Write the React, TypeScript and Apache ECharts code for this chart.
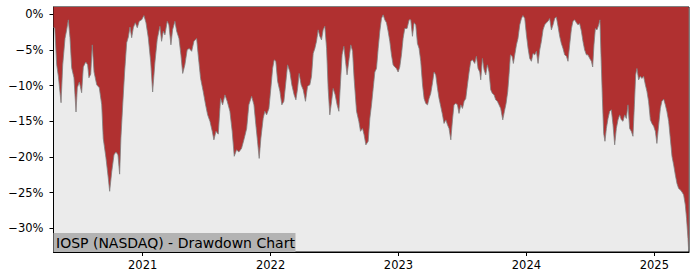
import React, { useEffect, useRef } from "react";
import * as echarts from "echarts";

// decimal-year dates of each observation
const years = [
  2020.303, 2020.313, 2020.328, 2020.341, 2020.362, 2020.375, 2020.393, 2020.406, 2020.419, 2020.432,
  2020.445, 2020.463, 2020.479, 2020.489, 2020.505, 2020.523, 2020.536, 2020.555, 2020.570, 2020.580,
  2020.594, 2020.606, 2020.620, 2020.641, 2020.661, 2020.680, 2020.692, 2020.713, 2020.731, 2020.742,
  2020.758, 2020.776, 2020.791, 2020.807, 2020.820, 2020.830, 2020.844, 2020.859, 2020.875, 2020.888,
  2020.901, 2020.914, 2020.927, 2020.942, 2020.958, 2020.973, 2020.992, 2021.010, 2021.026, 2021.044,
  2021.063, 2021.078, 2021.096, 2021.114, 2021.135, 2021.148, 2021.161, 2021.174, 2021.192, 2021.205,
  2021.221, 2021.234, 2021.252, 2021.266, 2021.284, 2021.299, 2021.313, 2021.330, 2021.348, 2021.364,
  2021.383, 2021.401, 2021.422, 2021.434, 2021.453, 2021.473, 2021.492, 2021.508, 2021.526, 2021.544,
  2021.557, 2021.573, 2021.591, 2021.609, 2021.625, 2021.643, 2021.661, 2021.682, 2021.700, 2021.716,
  2021.734, 2021.752, 2021.773, 2021.794, 2021.813, 2021.830, 2021.852, 2021.870, 2021.885, 2021.898,
  2021.911, 2021.924, 2021.942, 2021.955, 2021.969, 2021.987, 2022.002, 2022.016, 2022.028, 2022.041,
  2022.055, 2022.073, 2022.088, 2022.104, 2022.120, 2022.133, 2022.151, 2022.166, 2022.184, 2022.198,
  2022.211, 2022.223, 2022.239, 2022.255, 2022.273, 2022.289, 2022.307, 2022.320, 2022.333, 2022.346,
  2022.359, 2022.372, 2022.385, 2022.398, 2022.411, 2022.424, 2022.438, 2022.450, 2022.463, 2022.477,
  2022.489, 2022.505, 2022.520, 2022.534, 2022.547, 2022.559, 2022.573, 2022.586, 2022.598, 2022.614,
  2022.627, 2022.641, 2022.653, 2022.672, 2022.690, 2022.703, 2022.719, 2022.731, 2022.745, 2022.763,
  2022.776, 2022.789, 2022.802, 2022.815, 2022.828, 2022.841, 2022.854, 2022.867, 2022.880, 2022.893,
  2022.906, 2022.919, 2022.932, 2022.945, 2022.958, 2022.971, 2022.984, 2022.997, 2023.010, 2023.023,
  2023.036, 2023.049, 2023.067, 2023.083, 2023.096, 2023.109, 2023.122, 2023.135, 2023.148, 2023.161,
  2023.174, 2023.188, 2023.200, 2023.213, 2023.227, 2023.239, 2023.252, 2023.266, 2023.278, 2023.291,
  2023.305, 2023.317, 2023.330, 2023.344, 2023.356, 2023.370, 2023.383, 2023.395, 2023.409, 2023.422,
  2023.434, 2023.448, 2023.461, 2023.473, 2023.487, 2023.500, 2023.513, 2023.526, 2023.539, 2023.552,
  2023.565, 2023.578, 2023.596, 2023.609, 2023.622, 2023.635, 2023.643, 2023.656, 2023.669, 2023.682,
  2023.695, 2023.708, 2023.721, 2023.734, 2023.747, 2023.760, 2023.773, 2023.786, 2023.799, 2023.815,
  2023.828, 2023.841, 2023.854, 2023.864, 2023.875, 2023.888, 2023.898, 2023.909, 2023.922, 2023.934,
  2023.948, 2023.961, 2023.973, 2023.987, 2024.000, 2024.013, 2024.026, 2024.039, 2024.052, 2024.065,
  2024.078, 2024.091, 2024.104, 2024.117, 2024.130, 2024.143, 2024.156, 2024.169, 2024.182, 2024.195,
  2024.208, 2024.221, 2024.234, 2024.247, 2024.260, 2024.273, 2024.286, 2024.299, 2024.313, 2024.325,
  2024.338, 2024.352, 2024.364, 2024.377, 2024.391, 2024.403, 2024.416, 2024.430, 2024.442, 2024.455,
  2024.469, 2024.481, 2024.495, 2024.508, 2024.518, 2024.528, 2024.539, 2024.552, 2024.565, 2024.575,
  2024.583, 2024.594, 2024.604, 2024.614, 2024.625, 2024.638, 2024.651, 2024.664, 2024.677, 2024.690,
  2024.703, 2024.716, 2024.729, 2024.742, 2024.755, 2024.768, 2024.781, 2024.794, 2024.807, 2024.820,
  2024.833, 2024.844, 2024.854, 2024.864, 2024.877, 2024.891, 2024.903, 2024.916, 2024.930, 2024.942,
  2024.955, 2024.969, 2024.981, 2024.995, 2025.008, 2025.020, 2025.034, 2025.047, 2025.059, 2025.073,
  2025.086, 2025.098, 2025.112, 2025.125, 2025.138, 2025.151, 2025.164, 2025.177, 2025.190, 2025.203,
  2025.216, 2025.229, 2025.242, 2025.252, 2025.263, 2025.268,
];

// drawdown from running peak, in percent
const drawdown = [
  -1.8, -2.0, -7.1, -8.7, -12.4, -7.1, -3.4, -2.2, -0.8, -3.3,
  -7.5, -8.9, -13.7, -10.3, -9.5, -11.0, -7.4, -6.7, -7.1, -8.9,
  -8.4, -4.3, -8.1, -9.9, -10.3, -12.7, -17.4, -20.1, -22.9, -24.8,
  -22.1, -19.7, -19.3, -19.7, -22.4, -17.3, -12.7, -8.1, -4.0, -3.2,
  -1.8, -3.3, -1.9, -1.2, -1.9, -1.0, -0.8, -0.2, -1.2, -3.3,
  -6.7, -10.9, -6.7, -3.5, -1.7, -3.8, -2.4, -2.9, -1.0, -1.5,
  -4.3, -2.2, -1.0, -2.4, -3.4, -5.7, -8.3, -7.1, -5.0, -4.8,
  -5.2, -3.8, -3.4, -5.7, -9.0, -10.8, -12.7, -14.1, -15.0, -16.4,
  -17.6, -16.4, -16.8, -11.8, -12.7, -11.3, -12.2, -13.6, -16.4, -19.9,
  -19.0, -19.3, -18.8, -17.4, -16.0, -12.7, -11.5, -12.7, -15.5, -17.8,
  -20.2, -17.4, -14.6, -13.6, -14.1, -13.2, -10.4, -7.6, -6.4, -6.6,
  -9.4, -10.8, -12.7, -12.2, -9.4, -7.1, -8.1, -9.9, -11.3, -12.0,
  -10.4, -8.3, -9.9, -10.6, -12.2, -10.1, -9.9, -8.7, -5.5, -4.8,
  -3.8, -2.2, -3.1, -3.6, -2.2, -1.7, -4.8, -10.4, -14.1, -12.2,
  -10.4, -11.3, -12.7, -13.6, -9.4, -5.7, -4.5, -6.6, -8.5, -6.2,
  -4.3, -5.2, -9.0, -13.6, -15.0, -16.4, -16.0, -16.9, -18.3, -17.8,
  -14.6, -12.7, -10.4, -8.1, -7.6, -4.8, -2.4, -0.6, -0.1, -0.8,
  -1.2, -2.4, -3.8, -5.7, -7.1, -7.4, -7.6, -8.1, -7.4, -5.7,
  -3.4, -2.0, -2.0, -0.8, -0.8, -3.1, -1.2, -1.5, -4.1, -4.8,
  -6.6, -9.9, -11.8, -12.5, -12.7, -11.8, -11.1, -9.6, -8.1, -8.5,
  -10.4, -11.8, -12.9, -14.1, -15.3, -14.8, -15.5, -16.0, -17.6, -14.8,
  -12.7, -12.5, -12.7, -13.9, -12.7, -13.2, -12.2, -11.8, -9.9, -8.1,
  -6.6, -6.4, -6.9, -5.9, -7.6, -8.1, -9.2, -6.2, -7.8, -8.5,
  -7.1, -8.1, -10.6, -11.1, -11.3, -12.0, -12.2, -12.7, -13.2, -14.8,
  -13.6, -12.5, -10.8, -8.5, -5.7, -5.9, -6.9, -5.7, -4.3, -3.4,
  -1.5, -0.6, -0.2, -0.6, -2.9, -4.8, -6.2, -6.6, -5.5, -5.7,
  -5.2, -6.9, -5.0, -3.8, -2.2, -1.5, -1.2, -1.0, -0.6, -2.2,
  -1.5, -0.6, -0.4, -1.7, -3.1, -4.1, -4.8, -5.7, -5.9, -6.6,
  -4.3, -2.0, -1.0, -0.8, -1.2, -1.5, -1.3, -2.4, -3.8, -5.0,
  -5.7, -5.7, -6.2, -6.6, -7.4, -4.3, -2.0, -2.2, -1.5, -0.8,
  -5.7, -11.8, -16.7, -17.8, -16.0, -14.6, -13.6, -13.4, -15.5, -18.3,
  -16.0, -14.8, -14.1, -14.8, -15.0, -14.1, -14.6, -12.7, -16.0, -16.4,
  -17.1, -12.7, -8.5, -7.6, -9.2, -8.7, -9.0, -8.7, -9.9, -10.8,
  -12.2, -14.8, -15.3, -15.7, -16.4, -18.1, -15.5, -13.2, -12.2, -11.9,
  -12.7, -13.6, -15.0, -17.4, -19.9, -21.1, -22.5, -23.7, -24.4, -24.6,
  -24.9, -25.3, -26.7, -28.6, -31.4, -33.0,
];

const yearTicks = [2021, 2022, 2023, 2024, 2025];
const pctTicks = [0, -5, -10, -15, -20, -25, -30];
const chartTitle = "IOSP (NASDAQ) - Drawdown Chart";

const FONT = "DejaVu Sans";

export default function App() {
  const ref = useRef<HTMLDivElement>(null);

  useEffect(() => {
    if (!ref.current) return;
    const chart = echarts.init(ref.current, undefined, { renderer: "svg" });
    const data = years.map((y, i) => [y, drawdown[i]]);
    chart.setOption({
      animation: false,
      backgroundColor: "#ffffff",
      grid: {
        left: 53.5,
        right: 11,
        top: 7,
        bottom: 28,
        containLabel: false,
        show: true,
        backgroundColor: "#ebebeb",
        borderColor: "#000000",
        borderWidth: 1,
      },
      xAxis: {
        type: "value",
        min: 2020.303,
        max: 2025.271,
        splitLine: { show: false },
        axisLine: { show: true, onZero: false, lineStyle: { color: "#000", width: 1 } },
        axisTick: {
          show: true,
          customValues: yearTicks,
          length: 4,
          lineStyle: { color: "#000", width: 1 },
        },
        axisLabel: {
          customValues: yearTicks,
          formatter: (v: number) => String(Math.round(v)),
          color: "#000",
          fontFamily: FONT,
          fontSize: 11.5,
          margin: 7,
        },
      },
      yAxis: {
        type: "value",
        min: -33.3,
        max: 1.0,
        splitLine: { show: false },
        axisLine: { show: true, onZero: false, lineStyle: { color: "#000", width: 1 } },
        axisTick: {
          show: true,
          customValues: pctTicks,
          length: 4,
          lineStyle: { color: "#000", width: 1 },
        },
        axisLabel: {
          customValues: pctTicks,
          formatter: (v: number) => (v === 0 ? "0%" : "\u2212" + Math.abs(v) + "%"),
          color: "#000",
          fontFamily: FONT,
          fontSize: 11.5,
          margin: 10,
        },
      },
      series: [
        {
          type: "line",
          data,
          symbol: "none",
          showSymbol: false,
          lineStyle: { color: "#808080", width: 0.8 },
          areaStyle: { color: "#b03030", opacity: 1, origin: "end" },
          z: 2,
        },
      ],
      graphic: [
        {
          type: "rect",
          z: 100,
          shape: { x: 53.5, y: 233, width: 242, height: 19 },
          style: { fill: "#b3b3b3" },
        },
        {
          type: "text",
          z: 101,
          x: 56,
          y: 242.5,
          style: {
            text: chartTitle,
            fill: "#000",
            font: `14px "${FONT}"`,
            textVerticalAlign: "middle",
            verticalAlign: "middle",
          },
        },
      ],
    });
    return () => chart.dispose();
  }, []);

  return (
    <div
      ref={ref}
      style={{ position: "fixed", left: 0, top: 0, width: 700, height: 280 }}
    />
  );
}
